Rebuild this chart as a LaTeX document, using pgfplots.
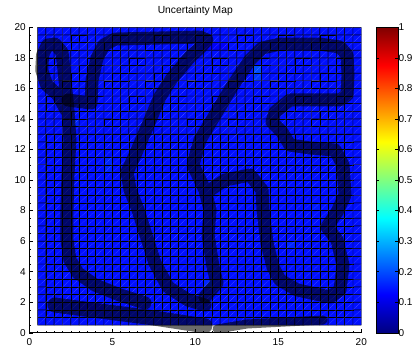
\documentclass[border=0pt]{standalone}
\usepackage{fontspec}
\setmainfont{Liberation Sans}
\usepackage{pgfplots}
\pgfplotsset{compat=1.18}

\begin{document}
\begin{tikzpicture}[font=\fontsize{10}{12}\selectfont]
\begin{axis}[
  at={(0pt,0pt)}, anchor=south west,
  scale only axis, width=332pt, height=305.4pt,
  xmin=0, xmax=20, ymin=0, ymax=20,
  axis x line*=bottom, axis y line*=left,
  axis line style={-, line width=0.5pt},
  x axis line style={-}, y axis line style={-},
  xtick={0,5,10,15,20}, ytick={0,2,...,20},
  minor x tick num=9, minor y tick num=3,
  tick align=inside, major tick length=4pt, minor tick length=1.8pt,
  tick style={black, line width=0.4pt},
  /pgf/number format/assume math mode=true,
  ticklabel style={font=\fontsize{10}{12}\selectfont},
  xticklabel style={yshift=-2pt},
  title={Uncertainty Map},
  title style={at={(0.5,1)}, anchor=base, yshift=8.3pt, font=\fontsize{10.3}{12}\selectfont},
  colormap/jet,
  point meta min=0, point meta max=1,
  colorbar,
  colorbar/width=22pt,
  colorbar style={
    at={(parent axis.north east)}, anchor=north west, xshift=6.2pt,
    ytick={0,0.1,0.2,0.3,0.4,0.5,0.6,0.7,0.8,0.9,1},
    ytick pos=both, yticklabel pos=right,
    tick align=inside, major tick length=3pt,
    tick style={black, line width=0.4pt},
    /pgf/number format/assume math mode=true,
    yticklabel style={font=\fontsize{10}{12}\selectfont, xshift=-3pt},
  },
]
% uncertainty per 0.5 x 0.5 cell, in hundredths, bottom row first
\addplot[matrix plot*, shader=faceted, faceted color=black, line width=0.45pt,
  mesh/cols=39, point meta={\thisrow{c}/100}]
  table[row sep=\\, x expr={mod(\coordindex,39)*0.5+0.75},
        y expr={floor((\coordindex+0.5)/39)*0.5+0.75}] {
c\\
14\\14\\14\\14\\14\\14\\14\\14\\14\\14\\14\\14\\14\\ 14\\14\\14\\14\\14\\14\\14\\14\\14\\14\\14\\14\\14\\ 14\\14\\14\\14\\14\\14\\14\\14\\14\\14\\14\\14\\14\\
14\\14\\14\\14\\14\\14\\14\\14\\14\\14\\14\\14\\14\\ 14\\14\\14\\14\\14\\14\\14\\14\\14\\14\\14\\14\\14\\ 14\\14\\14\\14\\14\\14\\14\\14\\14\\14\\14\\14\\14\\
14\\14\\14\\14\\14\\12\\12\\12\\14\\14\\14\\14\\14\\ 14\\14\\14\\14\\14\\14\\14\\14\\14\\14\\14\\14\\14\\ 14\\14\\14\\14\\14\\14\\14\\14\\14\\14\\14\\14\\14\\
14\\14\\14\\14\\14\\14\\14\\14\\14\\14\\14\\14\\14\\ 14\\14\\14\\14\\14\\14\\14\\14\\14\\14\\14\\14\\14\\ 14\\14\\14\\14\\14\\14\\14\\14\\14\\14\\14\\14\\14\\
14\\14\\14\\14\\14\\14\\14\\14\\14\\14\\14\\14\\14\\ 14\\14\\14\\14\\14\\14\\14\\14\\14\\14\\14\\14\\14\\ 14\\14\\14\\14\\14\\14\\14\\14\\14\\14\\14\\14\\14\\
14\\14\\14\\14\\14\\14\\14\\14\\14\\14\\14\\14\\14\\ 14\\14\\14\\14\\14\\14\\14\\16\\14\\14\\14\\14\\14\\ 14\\14\\14\\14\\14\\14\\14\\14\\14\\14\\14\\14\\14\\
14\\14\\14\\14\\14\\14\\14\\14\\14\\14\\14\\14\\14\\ 14\\14\\14\\14\\14\\14\\14\\14\\14\\14\\14\\14\\14\\ 14\\14\\14\\14\\14\\14\\14\\14\\14\\14\\14\\14\\14\\
14\\14\\14\\14\\14\\14\\14\\14\\14\\14\\14\\14\\14\\ 14\\14\\14\\14\\14\\14\\14\\14\\14\\14\\14\\14\\14\\ 14\\14\\14\\14\\14\\14\\14\\14\\14\\14\\14\\14\\14\\
14\\14\\14\\14\\14\\14\\14\\14\\14\\14\\14\\14\\14\\ 14\\14\\14\\14\\14\\14\\14\\14\\14\\14\\14\\14\\14\\ 14\\14\\14\\14\\14\\14\\14\\14\\14\\14\\14\\14\\14\\
14\\14\\14\\14\\14\\14\\14\\14\\14\\14\\14\\14\\14\\ 14\\14\\14\\14\\14\\14\\14\\14\\14\\14\\14\\14\\14\\ 14\\14\\14\\14\\14\\14\\14\\14\\14\\14\\14\\14\\14\\
14\\14\\14\\14\\14\\14\\14\\14\\14\\14\\14\\14\\14\\ 14\\14\\14\\14\\14\\14\\14\\14\\14\\14\\14\\14\\14\\ 14\\14\\14\\14\\16\\14\\14\\14\\14\\14\\14\\14\\14\\
14\\14\\14\\14\\14\\14\\14\\14\\14\\14\\14\\14\\14\\ 14\\14\\14\\14\\14\\14\\14\\14\\14\\14\\14\\14\\14\\ 14\\14\\14\\14\\14\\14\\14\\14\\14\\14\\14\\14\\14\\
14\\14\\14\\14\\14\\14\\14\\14\\14\\14\\14\\14\\14\\ 14\\14\\14\\14\\14\\14\\14\\14\\14\\14\\14\\14\\14\\ 14\\14\\14\\14\\14\\14\\14\\14\\14\\14\\14\\14\\14\\
14\\14\\14\\14\\14\\14\\14\\14\\14\\14\\14\\14\\14\\ 14\\14\\14\\14\\14\\14\\14\\14\\14\\14\\14\\14\\14\\ 14\\14\\14\\14\\14\\14\\14\\14\\14\\14\\14\\14\\14\\
14\\14\\14\\14\\14\\14\\14\\14\\14\\14\\14\\14\\14\\ 14\\14\\14\\14\\14\\14\\14\\14\\14\\14\\14\\14\\14\\ 14\\14\\14\\14\\14\\14\\14\\14\\14\\14\\14\\14\\14\\
14\\14\\14\\14\\14\\14\\14\\14\\14\\14\\14\\14\\14\\ 14\\14\\14\\14\\14\\14\\14\\14\\14\\14\\14\\14\\14\\ 14\\14\\14\\14\\14\\14\\14\\15\\14\\14\\14\\14\\14\\
14\\14\\14\\14\\14\\14\\14\\14\\14\\14\\14\\14\\14\\ 14\\14\\14\\14\\14\\14\\14\\14\\14\\14\\14\\14\\14\\ 14\\14\\14\\14\\14\\14\\14\\14\\14\\14\\14\\14\\14\\
14\\14\\14\\14\\14\\14\\14\\14\\14\\14\\14\\14\\14\\ 14\\14\\14\\14\\14\\14\\14\\14\\14\\14\\14\\14\\14\\ 14\\14\\14\\14\\14\\14\\14\\14\\14\\14\\14\\14\\14\\
14\\14\\14\\14\\14\\14\\14\\14\\14\\14\\14\\14\\14\\ 14\\14\\14\\14\\14\\14\\14\\14\\14\\14\\14\\14\\14\\ 14\\14\\14\\14\\14\\14\\14\\14\\14\\14\\14\\14\\14\\
14\\14\\14\\14\\14\\14\\14\\14\\14\\14\\14\\14\\14\\ 14\\14\\14\\14\\14\\14\\14\\14\\14\\14\\14\\14\\14\\ 14\\14\\14\\14\\14\\14\\14\\14\\14\\14\\14\\14\\14\\
14\\14\\14\\14\\14\\14\\14\\14\\16\\14\\14\\14\\14\\ 14\\14\\14\\14\\14\\14\\14\\14\\14\\14\\14\\14\\14\\ 14\\14\\14\\14\\14\\14\\14\\14\\14\\14\\14\\14\\14\\
14\\14\\14\\14\\14\\14\\14\\14\\16\\14\\14\\14\\14\\ 14\\14\\14\\14\\14\\14\\14\\14\\14\\14\\14\\14\\14\\ 14\\14\\14\\14\\14\\14\\14\\14\\14\\14\\14\\14\\14\\
14\\14\\14\\14\\14\\14\\14\\14\\14\\14\\14\\14\\14\\ 14\\14\\14\\14\\14\\14\\14\\14\\14\\14\\14\\14\\14\\ 14\\14\\14\\14\\14\\14\\14\\14\\14\\14\\14\\14\\14\\
14\\14\\14\\14\\14\\14\\14\\14\\14\\14\\14\\14\\14\\ 14\\14\\14\\14\\14\\14\\14\\14\\14\\14\\14\\14\\14\\ 14\\14\\14\\14\\14\\14\\14\\14\\14\\14\\14\\14\\14\\
14\\14\\14\\14\\14\\14\\14\\14\\14\\14\\14\\14\\14\\ 14\\14\\14\\14\\14\\14\\14\\14\\14\\14\\14\\14\\14\\ 14\\14\\14\\14\\14\\14\\14\\14\\14\\14\\14\\14\\14\\
14\\14\\14\\14\\14\\14\\14\\14\\14\\14\\14\\14\\14\\ 14\\14\\14\\14\\14\\14\\14\\14\\14\\14\\14\\14\\14\\ 14\\14\\14\\14\\14\\14\\14\\14\\14\\14\\14\\14\\14\\
14\\14\\14\\14\\16\\14\\14\\14\\14\\14\\14\\14\\14\\ 14\\14\\14\\14\\14\\14\\14\\14\\14\\14\\14\\14\\14\\ 14\\14\\14\\14\\14\\14\\14\\14\\14\\14\\14\\14\\14\\
14\\14\\14\\14\\14\\14\\14\\14\\14\\14\\14\\14\\14\\ 14\\14\\14\\14\\14\\14\\14\\14\\14\\14\\14\\14\\14\\ 14\\14\\14\\14\\14\\14\\14\\14\\14\\14\\14\\14\\14\\
14\\14\\14\\14\\14\\14\\14\\14\\14\\14\\14\\14\\14\\ 14\\14\\15\\14\\14\\14\\14\\14\\14\\14\\14\\14\\14\\ 14\\14\\14\\14\\14\\14\\14\\14\\14\\14\\14\\14\\14\\
14\\14\\14\\14\\14\\14\\14\\14\\14\\14\\14\\14\\14\\ 14\\14\\14\\14\\14\\14\\14\\14\\14\\14\\14\\14\\14\\ 14\\14\\14\\14\\14\\14\\14\\14\\14\\14\\14\\14\\14\\
14\\14\\14\\14\\14\\14\\14\\14\\14\\14\\14\\14\\14\\ 14\\14\\14\\14\\14\\14\\14\\14\\14\\14\\14\\14\\14\\ 14\\14\\14\\14\\14\\14\\14\\14\\14\\14\\14\\14\\14\\
14\\14\\14\\14\\14\\14\\14\\14\\14\\14\\14\\14\\14\\ 14\\14\\14\\14\\14\\14\\14\\14\\14\\14\\14\\14\\14\\ 14\\14\\14\\14\\14\\14\\14\\14\\14\\14\\14\\14\\14\\
14\\14\\14\\14\\14\\14\\14\\14\\14\\14\\14\\14\\14\\ 14\\14\\14\\14\\14\\14\\14\\14\\14\\14\\14\\14\\14\\ 18\\14\\14\\14\\14\\14\\14\\14\\14\\14\\14\\14\\14\\
14\\14\\14\\14\\14\\14\\14\\14\\14\\14\\14\\14\\14\\ 14\\14\\14\\14\\14\\14\\14\\14\\14\\14\\14\\14\\14\\ 20\\14\\14\\14\\14\\14\\14\\14\\14\\14\\14\\14\\14\\
14\\14\\14\\14\\14\\14\\14\\14\\14\\14\\14\\14\\14\\ 14\\14\\14\\14\\14\\14\\14\\14\\14\\14\\14\\14\\14\\ 14\\14\\14\\14\\14\\14\\14\\14\\14\\14\\14\\14\\14\\
14\\14\\14\\14\\14\\14\\14\\14\\14\\14\\14\\14\\14\\ 14\\14\\14\\14\\14\\14\\14\\14\\14\\14\\14\\14\\14\\ 14\\14\\14\\14\\14\\14\\14\\14\\14\\14\\14\\14\\14\\
14\\14\\14\\14\\14\\14\\14\\14\\14\\14\\14\\14\\14\\ 14\\14\\14\\14\\14\\14\\14\\12\\12\\12\\14\\14\\14\\ 14\\14\\14\\14\\14\\14\\14\\14\\14\\14\\14\\14\\14\\
14\\14\\14\\14\\14\\14\\14\\14\\14\\14\\14\\14\\14\\ 14\\14\\14\\14\\14\\14\\14\\14\\14\\14\\14\\14\\14\\ 14\\14\\14\\14\\14\\14\\14\\14\\14\\14\\14\\14\\14\\
14\\14\\14\\14\\14\\14\\14\\14\\14\\14\\14\\14\\14\\ 14\\14\\14\\14\\14\\14\\14\\14\\14\\14\\14\\14\\14\\ 14\\14\\14\\14\\14\\14\\14\\14\\14\\14\\14\\14\\14\\
};
% light seams along the cell diagonals
\pgfplotsinvokeforeach{-38,...,38}{
  \draw[white, opacity=0.4, line width=0.35pt, dash pattern=on 0.6pt off 0.9pt]
    (axis cs:{0.5+max(0,-(#1))*0.5},{0.5+max(0,#1)*0.5}) --
    (axis cs:{20-max(0,#1)*0.5},{20-max(0,-(#1))*0.5});
}
% vehicle tracks
\pgfplotsset{track/.style={black, opacity=0.58, line width=13pt, line cap=round, line join=round, mark=none}}
\addplot[track] coordinates {(2.21,14.59) (1.73,15.57) (1.05,16.22) (0.75,17.20) (0.80,18.19) (1.10,18.84) (1.55,18.90) (1.97,18.38) (2.09,17.20) (2.21,15.89) (2.33,14.59) (2.45,12.62) (2.33,10.33) (2.27,8.04) (2.27,6.07) (2.45,4.76) (2.93,3.91) (3.96,3.12) (5.46,2.47) (6.97,1.95)};
\addplot[track] coordinates {(2.33,15.24) (3.72,15.04) (3.78,16.55) (4.08,17.99) (4.50,18.84) (5.16,19.23) (7.87,19.30) (10.28,19.36) (10.70,19.17) (10.28,18.64) (9.68,18.06) (8.60,16.68) (7.87,15.44) (7.15,13.60) (6.37,11.64) (5.89,10.53) (6.07,9.35) (6.55,8.04) (7.03,6.40) (7.57,4.56) (8.36,2.99) (9.56,2.14) (10.58,1.81)};
\addplot[track, line width=15pt] coordinates {(1.55,1.81) (4.26,1.42) (7.27,1.00) (10.58,0.45)};
\addplot[track] coordinates {(10.58,2.34) (11.31,3.26) (11.07,4.30) (10.77,6.40) (10.89,8.04) (10.58,9.35) (9.86,10.98) (10.28,12.62) (11.19,14.26) (12.27,16.22) (13.30,17.86) (14.02,18.64) (15.10,18.90) (17.51,18.90) (18.72,18.71) (19.14,18.19) (19.20,16.88) (19.14,15.57) (18.72,15.24) (16.91,15.24) (15.70,15.24) (14.80,14.45) (14.62,13.80) (15.22,13.14) (15.70,12.29) (16.91,12.10) (18.42,11.96) (18.90,10.98) (19.02,9.02) (18.54,7.91) (17.93,6.92) (18.54,6.07) (18.90,4.43) (18.72,2.80) (18.11,2.34) (16.13,2.80) (15.10,3.45) (14.68,4.30) (14.32,5.87) (14.08,8.04) (14.02,9.35) (13.30,10.33) (11.79,10.00) (10.89,9.35)};
\addplot[track, line width=9pt] coordinates {(11.31,0.24) (13.11,0.57) (17.69,0.83)};
\end{axis}
\pgfresetboundingbox
\useasboundingbox (-29.3pt,-16.3pt) rectangle (383.7pt,332.7pt);
\end{tikzpicture}
\end{document}
